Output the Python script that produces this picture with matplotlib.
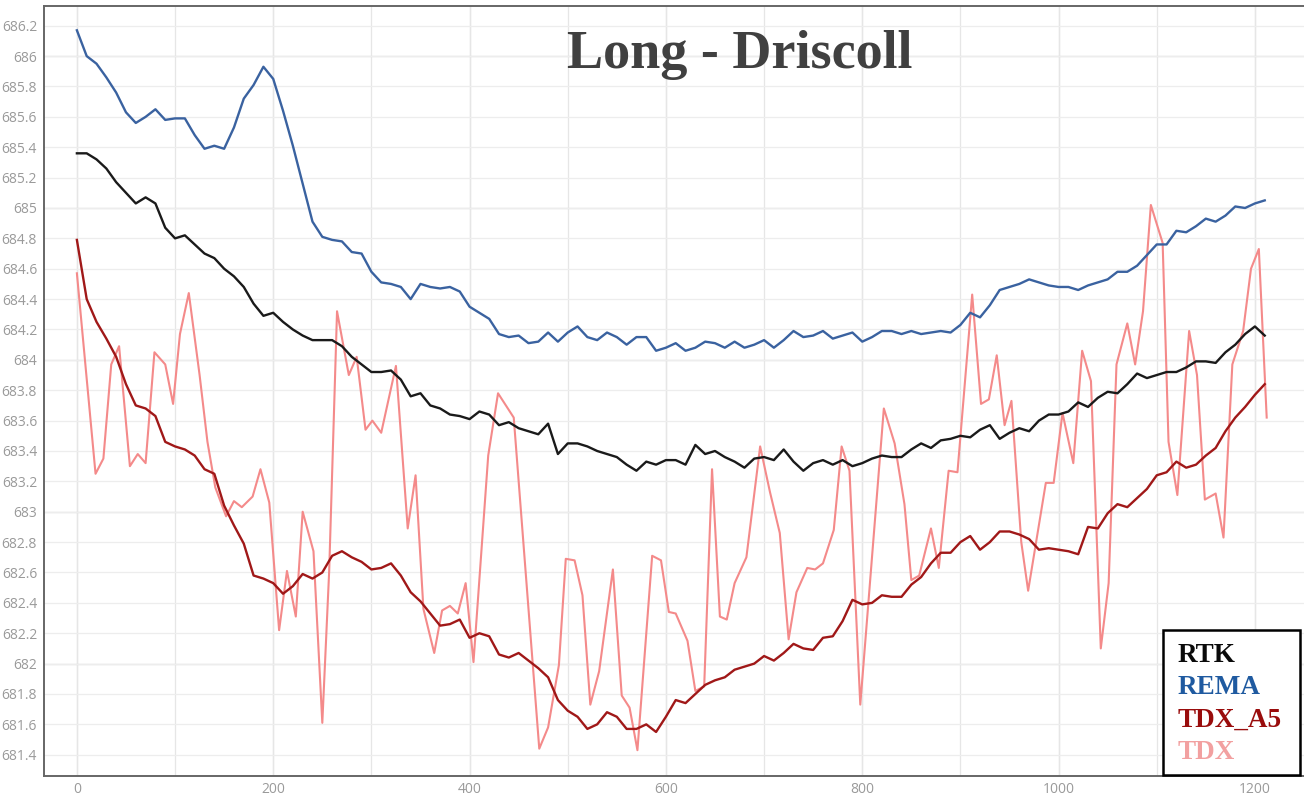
import numpy as np
import matplotlib
matplotlib.use("Agg")
import matplotlib.pyplot as plt
from matplotlib.ticker import MultipleLocator, FuncFormatter
from matplotlib.patches import Rectangle

# distance along profile (m) for the smooth series
dist = np.arange(0, 1211, 10)

rema = [
    686.17, 686.00, 685.95, 685.86, 685.76, 685.63, 685.56, 685.60, 685.65, 685.58,
    685.59, 685.59, 685.48, 685.39, 685.41, 685.39, 685.53, 685.72, 685.81, 685.93,
    685.85, 685.64, 685.41, 685.16, 684.91, 684.81, 684.79, 684.78, 684.71, 684.70,
    684.58, 684.51, 684.50, 684.48, 684.40, 684.50, 684.48, 684.47, 684.48, 684.45,
    684.35, 684.31, 684.27, 684.17, 684.15, 684.16, 684.11, 684.12, 684.18, 684.12,
    684.18, 684.22, 684.15, 684.13, 684.18, 684.15, 684.10, 684.15, 684.15, 684.06,
    684.08, 684.11, 684.06, 684.08, 684.12, 684.11, 684.08, 684.12, 684.08, 684.10,
    684.13, 684.08, 684.13, 684.19, 684.15, 684.16, 684.19, 684.14, 684.16, 684.18,
    684.12, 684.15, 684.19, 684.19, 684.17, 684.19, 684.17, 684.18, 684.19, 684.18,
    684.23, 684.31, 684.28, 684.36, 684.46, 684.48, 684.50, 684.53, 684.51, 684.49,
    684.48, 684.48, 684.46, 684.49, 684.51, 684.53, 684.58, 684.58, 684.62, 684.69,
    684.76, 684.76, 684.85, 684.84, 684.88, 684.93, 684.91, 684.95, 685.01, 685.00,
    685.03, 685.05,
]

rtk = [
    685.36, 685.36, 685.32, 685.26, 685.17, 685.10, 685.03, 685.07, 685.03, 684.87,
    684.80, 684.82, 684.76, 684.70, 684.67, 684.60, 684.55, 684.48, 684.37, 684.29,
    684.31, 684.25, 684.20, 684.16, 684.13, 684.13, 684.13, 684.09, 684.02, 683.97,
    683.92, 683.92, 683.93, 683.87, 683.76, 683.78, 683.70, 683.68, 683.64, 683.63,
    683.61, 683.66, 683.64, 683.57, 683.59, 683.55, 683.53, 683.51, 683.58, 683.38,
    683.45, 683.45, 683.43, 683.40, 683.38, 683.36, 683.31, 683.27, 683.33, 683.31,
    683.34, 683.34, 683.31, 683.44, 683.38, 683.40, 683.36, 683.33, 683.29, 683.35,
    683.36, 683.34, 683.41, 683.33, 683.27, 683.32, 683.34, 683.31, 683.34, 683.30,
    683.32, 683.35, 683.37, 683.36, 683.36, 683.41, 683.45, 683.42, 683.47, 683.48,
    683.50, 683.49, 683.54, 683.57, 683.48, 683.52, 683.55, 683.53, 683.60, 683.64,
    683.64, 683.66, 683.72, 683.69, 683.75, 683.79, 683.78, 683.84, 683.91, 683.88,
    683.90, 683.92, 683.92, 683.95, 683.99, 683.99, 683.98, 684.05, 684.10, 684.17,
    684.22, 684.16,
]

tdx_a5 = [
    684.79, 684.40, 684.25, 684.14, 684.02, 683.84, 683.70, 683.68, 683.63, 683.46,
    683.43, 683.41, 683.37, 683.28, 683.25, 683.04, 682.91, 682.79, 682.58, 682.56,
    682.53, 682.46, 682.51, 682.59, 682.56, 682.60, 682.71, 682.74, 682.70, 682.67,
    682.62, 682.63, 682.66, 682.58, 682.47, 682.41, 682.33, 682.25, 682.26, 682.29,
    682.17, 682.20, 682.18, 682.06, 682.04, 682.07, 682.02, 681.97, 681.91, 681.76,
    681.69, 681.65, 681.57, 681.60, 681.68, 681.65, 681.57, 681.57, 681.60, 681.55,
    681.65, 681.76, 681.74, 681.80, 681.86, 681.89, 681.91, 681.96, 681.98, 682.00,
    682.05, 682.02, 682.07, 682.13, 682.10, 682.09, 682.17, 682.18, 682.28, 682.42,
    682.39, 682.40, 682.45, 682.44, 682.44, 682.52, 682.57, 682.66, 682.73, 682.73,
    682.80, 682.84, 682.75, 682.80, 682.87, 682.87, 682.85, 682.82, 682.75, 682.76,
    682.75, 682.74, 682.72, 682.90, 682.89, 682.99, 683.05, 683.03, 683.09, 683.15,
    683.24, 683.26, 683.33, 683.29, 683.31, 683.37, 683.42, 683.53, 683.62, 683.69,
    683.77, 683.84,
]

# raw TDX samples (distance, elevation) read at the line's vertices
tdx_dist = [
    0, 19, 27, 35, 43, 54, 62, 70, 79, 90, 98, 105, 114, 125, 133, 141, 152, 160,
    168, 179, 187, 196, 206, 214, 223, 230, 241, 250, 257, 265, 277, 285, 294, 301,
    310, 325, 337, 345, 353, 364, 372, 380, 388, 396, 404, 419, 429, 437, 445, 471,
    480, 491, 498, 507, 515, 523, 532, 546, 555, 563, 571, 586, 595, 603, 610, 622,
    630, 639, 647, 655, 662, 670, 682, 696, 706, 716, 725, 733, 744, 752, 760, 771,
    779, 787, 798, 822, 833, 843, 850, 858, 870, 878, 888, 897, 912, 921, 929, 937,
    945, 952, 962, 969, 987, 995, 1004, 1015, 1024, 1033, 1043, 1051, 1059, 1070,
    1078, 1086, 1094, 1106, 1112, 1121, 1133, 1141, 1149, 1160, 1168, 1177, 1188,
    1196, 1204, 1212,
]
tdx_elev = [
    684.57, 683.25, 683.35, 683.97, 684.09, 683.30, 683.38, 683.32, 684.05, 683.97,
    683.71, 684.17, 684.44, 683.90, 683.46, 683.16, 682.97, 683.07, 683.03, 683.10,
    683.28, 683.06, 682.22, 682.61, 682.31, 683.00, 682.74, 681.61, 682.61, 684.32,
    683.90, 684.02, 683.54, 683.60, 683.52, 683.96, 682.89, 683.24, 682.36, 682.07,
    682.35, 682.38, 682.33, 682.53, 682.01, 683.37, 683.78, 683.70, 683.62, 681.44,
    681.58, 681.99, 682.69, 682.68, 682.45, 681.73, 681.95, 682.62, 681.79, 681.71,
    681.43, 682.71, 682.68, 682.34, 682.33, 682.15, 681.82, 681.85, 683.28, 682.31,
    682.29, 682.53, 682.70, 683.43, 683.13, 682.86, 682.16, 682.47, 682.63, 682.62,
    682.66, 682.88, 683.43, 683.27, 681.73, 683.68, 683.45, 683.05, 682.55, 682.58,
    682.89, 682.63, 683.27, 683.26, 684.43, 683.71, 683.74, 684.03, 683.57, 683.73,
    682.80, 682.48, 683.19, 683.19, 683.65, 683.32, 684.06, 683.86, 682.10, 682.53,
    683.97, 684.24, 683.97, 684.32, 685.02, 684.77, 683.46, 683.11, 684.19, 683.90,
    683.08, 683.12, 682.83, 683.97, 684.19, 684.60, 684.73, 683.62,
]

series_labels = ["RTK", "REMA", "TDX_A5", "TDX"]
series_colors = ["#1a1a1a", "#3a62a0", "#a01818", "#f48a8a"]
legend_colors = ["#0a0a0a", "#1f5aa0", "#990c0c", "#f2a0a0"]

fig = plt.figure(figsize=(13.04, 7.94), dpi=100)
ax = fig.add_axes([44 / 1304, 1 - 776 / 794, 1 - 44 / 1304, (776 - 6) / 794])

ax.plot(tdx_dist, tdx_elev, color=series_colors[3], lw=1.5, zorder=2)
ax.plot(dist, tdx_a5, color=series_colors[2], lw=1.7, zorder=3)
ax.plot(dist, rtk, color=series_colors[0], lw=1.7, zorder=4)
ax.plot(dist, rema, color=series_colors[1], lw=1.7, zorder=4)

ax.set_xlim(-33.5, 1250)
ax.set_ylim(681.26, 686.33)

ax.xaxis.set_major_locator(MultipleLocator(200))
ax.xaxis.set_minor_locator(MultipleLocator(100))
ax.yaxis.set_major_locator(MultipleLocator(0.2))
ax.yaxis.set_major_formatter(FuncFormatter(lambda v, p: f"{round(v, 1):g}"))

# grid: light lines, integer elevations / 200 m a bit darker
ax.grid(True, which="both", axis="x", color="#e6e6e6", lw=0.9)
ax.grid(True, axis="y", color="#ededed", lw=0.9)
for yv in range(682, 687):
    ax.axhline(yv, color="#cacaca", lw=0.9, zorder=0)
for xv in range(0, 1201, 200):
    ax.axvline(xv, color="#d8d8d8", lw=0.9, zorder=0)
ax.set_axisbelow(True)

ax.tick_params(axis="both", which="both", length=0, colors="#9a9a9a", labelsize=10)
ax.tick_params(axis="y", pad=5)
ax.tick_params(axis="x", pad=4)
for lbl in ax.get_xticklabels() + ax.get_yticklabels():
    lbl.set_fontfamily("Open Sans")

for side in ["left", "bottom", "top"]:
    ax.spines[side].set_color("#666666")
    ax.spines[side].set_linewidth(1.4)
ax.spines["right"].set_visible(False)

ax.text(740 / 1304, 1 - 55 / 794, "Long - Driscoll", transform=fig.transFigure,
        ha="center", va="center", fontsize=39, fontweight="bold",
        family="Liberation Serif", color="#404040")

# legend box drawn by hand to match the reference
box = Rectangle((1163 / 1304, 1 - 775 / 794), (1300 - 1163) / 1304, (775 - 630) / 794,
                transform=fig.transFigure, facecolor="white", edgecolor="black",
                lw=1.8, zorder=10)
fig.patches.append(box)
for i, (lab, col) in enumerate(zip(series_labels, legend_colors)):
    fig.text(1178 / 1304, 1 - (655 + 32.5 * i) / 794, lab, ha="left", va="center",
             fontsize=19.5, fontweight="bold", family="Liberation Serif",
             color=col, zorder=11)

fig.savefig("out.png", dpi=100)
